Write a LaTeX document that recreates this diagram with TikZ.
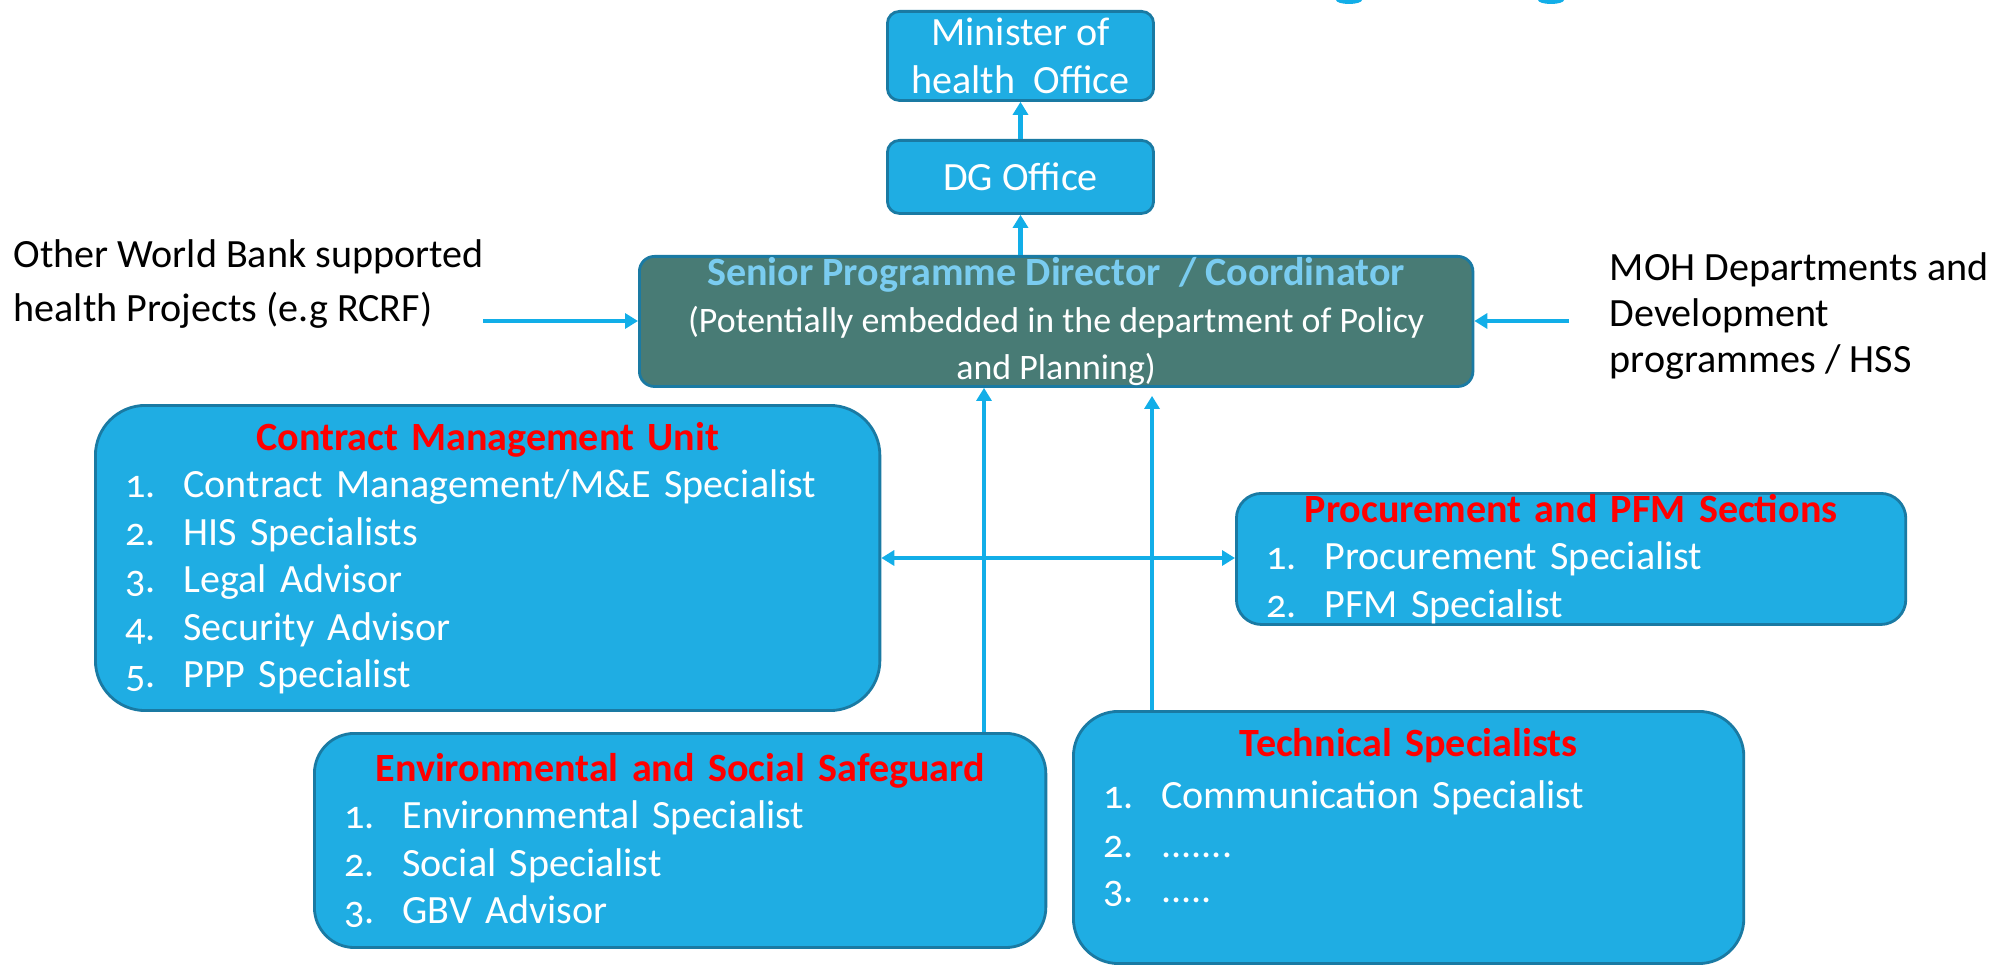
\documentclass[tikz,border=0pt]{standalone}
\usepackage{fontspec}
\setmainfont{Carlito}
\newfontfamily\numfont[Numbers=OldStyle]{Carlito}
\usetikzlibrary{arrows.meta}

\definecolor{boxblue}{HTML}{1FADE3}
\definecolor{boxedge}{HTML}{1A7AA3}
\definecolor{seniorgreen}{HTML}{487B75}
\definecolor{seniortitle}{HTML}{7ACCF0}
\definecolor{headred}{HTML}{FF0000}
\definecolor{linkblue}{HTML}{12AEE8}

\newcommand{\unithead}[1]{{\centering\color{headred}\bfseries #1\par}}
\newcommand{\unititem}[2]{\makebox[0.58cm][l]{\numfont #1.}#2\par}

\begin{document}
\begin{tikzpicture}[x=0.01cm,y=-0.01cm,>={Triangle[width=0.15cm,length=0.13cm]},font=\fontsize{11.4}{13.5}\selectfont,
    office/.style={draw=boxedge,line width=0.8pt,fill=boxblue,rounded corners=0.12cm,text=white,align=center,anchor=north west,inner sep=0pt},
    unit/.style={draw=boxedge,line width=0.8pt,fill=boxblue,text=white,align=left,anchor=north west,inner xsep=0.3cm,inner ysep=0pt},
    link/.style={draw=linkblue,line width=1.4pt,->},
    thin link/.style={draw=linkblue,line width=0.9pt,->}]

    \useasboundingbox (0,0) rectangle (2013,964);

    % top of the chart
    \node[office,minimum width=2.66cm,minimum height=0.89cm] (minister) at (886,10) {Minister of\\health\ \ Office};
    \node[office,minimum width=2.66cm,minimum height=0.73cm] (dg) at (886,139) {DG Office};
    \node[office,fill=seniorgreen,rounded corners=0.15cm,minimum width=8.33cm,minimum height=1.30cm,font=\fontsize{10.2}{13.4}\selectfont] (senior) at (638,255)
        {{\fontsize{11.4}{13.5}\selectfont\color{seniortitle}\bfseries Senior Programme Director\ \ / Coordinator}\\(Potentially embedded in the department of Policy\\and Planning)};

    % side inputs
    \node[align=left,anchor=west,inner xsep=0pt,font=\fontsize{11.4}{15.3}\selectfont] (wbproj) at (13,284) {Other World Bank supported\\health Projects (e.g RCRF)};
    \node[align=left,anchor=west,inner xsep=0pt,font=\fontsize{11.4}{13}\selectfont] (mohdept) at (1609,316) {MOH Departments and\\Development\\programmes / HSS};
    \coordinate (wbin) at (483,321);
    \coordinate (mohin) at (1569,321);

    % units
    \node[unit,rounded corners=0.5cm,text width=7.24cm,minimum height=3.05cm] (cmu) at (94,404) {%
        \unithead{Contract Management Unit}
        \unititem{1}{Contract Management/M\&E Specialist}
        \unititem{2}{HIS Specialists}
        \unititem{3}{Legal Advisor}
        \unititem{4}{Security Advisor}
        \unititem{5}{PPP Specialist}};
    \node[unit,rounded corners=0.25cm,text width=6.09cm,minimum height=1.31cm] (proc) at (1235,492) {%
        \unithead{Procurement and PFM Sections}
        \unititem{1}{Procurement Specialist}
        \unititem{2}{PFM Specialist}};
    \node[unit,rounded corners=0.4cm,text width=6.71cm,minimum height=2.14cm] (ess) at (313,732) {%
        \unithead{Environmental and Social Safeguard}
        \unititem{1}{Environmental Specialist}
        \unititem{2}{Social Specialist}
        \unititem{3}{GBV Advisor}};
    \node[unit,rounded corners=0.45cm,text width=6.10cm,minimum height=2.52cm] (tech) at (1072,710) {%
        \unithead{Technical Specialists}\vspace{0.04cm}
        \unititem{1}{Communication Specialist}\vspace{0.02cm}
        \unititem{2}{.......}\vspace{-0.03cm}
        \unititem{3}{.....}\vspace*{0.4cm}};
    \coordinate (essline) at (984,600);
    \coordinate (techline) at (1152,600);

    % connectors
    \draw[link] (dg.south |- senior.north) -- (dg.south);
    \draw[link] (dg) -- (minister);
    \draw[link] (wbin) -- (wbin -| senior.west);
    \draw[link] (mohin) -- (mohin -| senior.east);
    \draw[link,<->] (cmu.east) -- (cmu.east -| proc.west);
    \draw[thin link] (ess.north -| essline) -- (senior.south -| essline);
    \draw[thin link] (tech.north -| techline) -- ([yshift=-0.08cm]senior.south -| techline);

    % cut off title at the top edge
    \fill[linkblue] (1349,0) ellipse [x radius=13,y radius=4];
    \fill[linkblue] (1551,0) ellipse [x radius=13,y radius=4];

\end{tikzpicture}
\end{document}
